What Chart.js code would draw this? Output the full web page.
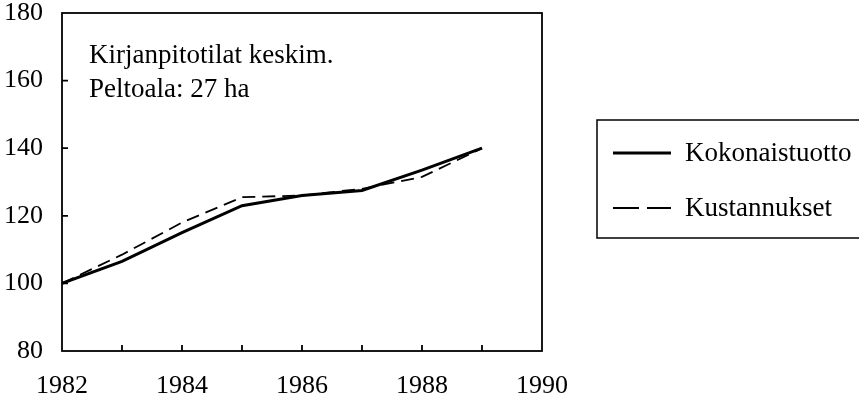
<!DOCTYPE html>
<html>
<head>
<meta charset="utf-8">
<script src="https://cdn.jsdelivr.net/npm/chart.js@4"></script>
<style>
  html, body { margin: 0; padding: 0; background: #fff; }
  #wrap { position: relative; width: 859px; height: 400px; }
</style>
</head>
<body>
<div id="wrap"><canvas id="chart" width="859" height="400"></canvas></div>
<script>
const years = [1982, 1983, 1984, 1985, 1986, 1987, 1988, 1989];
const kokonaistuotto = [100, 106.5, 115, 123, 126, 127.5, 133.5, 140];
const kustannukset = [100, 108.5, 118, 125.5, 126, 128, 131.5, 140];
const seriesLabels = ["Kokonaistuotto", "Kustannukset"];
const noteLines = ["Kirjanpitotilat keskim.", "Peltoala: 27 ha"];

const FONT = "'Liberation Serif', 'Times New Roman', serif";

// Plot frame, inward ticks, text note and boxed legend
const extras = {
    id: 'extras',
    afterDraw(chart) {
        const ctx = chart.ctx;
        const a = chart.chartArea;
        const x = chart.scales.x;
        const y = chart.scales.y;
        ctx.save();
        ctx.strokeStyle = '#000';
        ctx.lineWidth = 1.8;
        ctx.strokeRect(a.left, a.top, a.right - a.left, a.bottom - a.top);

        ctx.beginPath();
        for (let v = 1983; v < 1990; v++) {
            const px = x.getPixelForValue(v);
            ctx.moveTo(px, a.bottom);
            ctx.lineTo(px, a.bottom - 6);
        }
        for (let v = 100; v < 180; v += 20) {
            const py = y.getPixelForValue(v);
            ctx.moveTo(a.left, py);
            ctx.lineTo(a.left + 6, py);
        }
        ctx.stroke();

        ctx.fillStyle = '#000';
        ctx.font = '27px ' + FONT;
        ctx.textBaseline = 'alphabetic';
        ctx.fillText(noteLines[0], 89, 63);
        ctx.fillText(noteLines[1], 89, 97);

        // legend (dashes drawn longer, as in the original key)
        ctx.lineWidth = 1.5;
        ctx.strokeRect(597, 120, 270, 118);
        const ds = chart.data.datasets;
        const rows = [153, 208];
        ds.forEach((d, i) => {
            ctx.beginPath();
            ctx.lineWidth = d.borderWidth;
            ctx.setLineDash(d.borderDash ? [26, 8] : []);
            ctx.moveTo(613, rows[i]);
            ctx.lineTo(671, rows[i]);
            ctx.stroke();
            ctx.setLineDash([]);
            ctx.fillText(d.label, 685, rows[i] + 8);
        });
        ctx.restore();
    }
};

new Chart(document.getElementById('chart').getContext('2d'), {
    type: 'line',
    data: {
        datasets: [
            {
                label: seriesLabels[0],
                data: years.map((yr, i) => ({ x: yr, y: kokonaistuotto[i] })),
                borderColor: '#000',
                borderWidth: 3,
                pointRadius: 0,
                tension: 0
            },
            {
                label: seriesLabels[1],
                data: years.map((yr, i) => ({ x: yr, y: kustannukset[i] })),
                borderColor: '#000',
                borderWidth: 1.8,
                borderDash: [13, 7],
                pointRadius: 0,
                tension: 0
            }
        ]
    },
    options: {
        responsive: false,
        animation: false,
        layout: { padding: { top: 13, right: 317, left: 0, bottom: 0 } },
        plugins: {
            legend: { display: false },
            tooltip: { enabled: false }
        },
        scales: {
            x: {
                type: 'linear',
                min: 1982,
                max: 1990,
                grid: { display: false, drawTicks: false },
                border: { display: false },
                afterFit(scale) {
                    scale.height = 49;
                    scale.paddingLeft = 0;
                    scale.paddingRight = 0;
                },
                ticks: {
                    stepSize: 2,
                    padding: 20,
                    color: '#000',
                    font: { family: FONT, size: 26 },
                    maxRotation: 0,
                    callback: v => String(v)
                }
            },
            y: {
                min: 80,
                max: 180,
                grid: { display: false, drawTicks: false },
                border: { display: false },
                afterFit(scale) {
                    scale.width = 62;
                    scale.paddingTop = 0;
                    scale.paddingBottom = 0;
                },
                ticks: {
                    stepSize: 20,
                    padding: 19,
                    color: '#000',
                    font: { family: FONT, size: 26 }
                }
            }
        }
    },
    plugins: [extras]
});
</script>
</body>
</html>
